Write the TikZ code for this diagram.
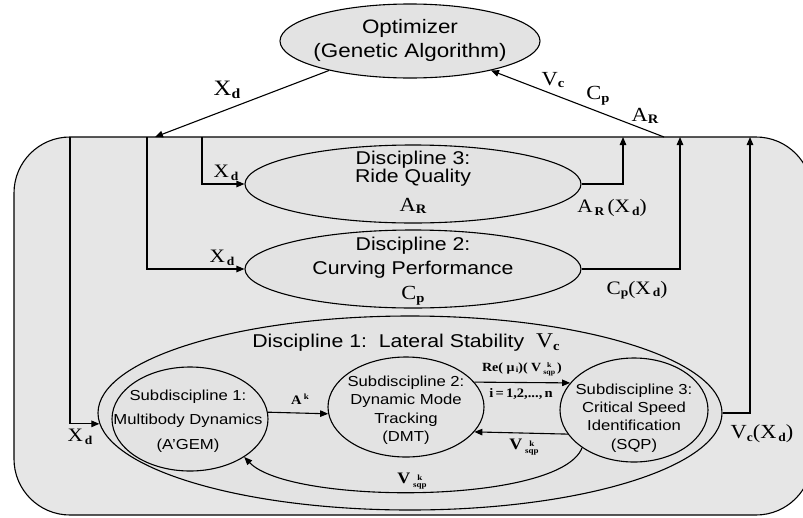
\documentclass[tikz,border=0pt]{standalone}
\usepackage{fontspec}
\setmainfont{Liberation Serif}[FakeStretch=1.12]
\setsansfont{Liberation Sans}[FakeStretch=1.15]
\usetikzlibrary{shapes.geometric,arrows.meta}
\definecolor{boxgray}{HTML}{E6E6E6}
\definecolor{ellgray}{HTML}{E3E3E3}
\newcommand\fs[2]{\fontsize{#1}{#2}\selectfont}
\newcommand\Sb[3]{#1\raisebox{-0.3ex}{\fs{#3}{#3}\bfseries #2}}
\newcommand\Stk[4]{\raisebox{-#3}{\fs{#4}{#4}\bfseries\shortstack{#1\\[0pt]#2}}}
\tikzset{
  ell/.style={ellipse, draw, line width=1.1pt, fill=ellgray, inner sep=0pt},
  conn/.style={line width=1.1pt},
  arr/.style={conn, -{Triangle[length=8pt,width=6.5pt]}},
  txt/.style={inner sep=0pt, align=center},
}
\begin{document}
\begin{tikzpicture}[x=1pt,y=-1pt]
\useasboundingbox (0,0) rectangle (803,517);
\clip (0,0) rectangle (803,517);
\fill[white] (0,0) rectangle (803,517);
\draw[conn, fill=boxgray, rounded corners=56pt] (14,137) rectangle (812,515);

% ellipses
\node[ell, minimum width=260, minimum height=74] (opt) at (410,41) {};
\node[ell, minimum width=336, minimum height=78] (d3) at (413,184) {};
\node[ell, minimum width=336, minimum height=78] (d2) at (413,269) {};
\node[ell, minimum width=624, minimum height=194] (d1) at (410,413) {};
\node[ell, minimum width=156, minimum height=104] (s1) at (190,419) {};
\node[ell, minimum width=156, minimum height=100] (s2) at (406,407) {};
\node[ell, minimum width=148, minimum height=104] (s3) at (634,410) {};

% texts in ellipses
\node[txt, font={\sffamily\fs{19.5}{24}}] (optt) at (410,40) {Optimizer\\(Genetic Algorithm)};
\node[txt, font={\sffamily\fs{18.5}{18}}] (d3t) at (413,169) {Discipline 3:\\Ride Quality};
\node[txt, font={\rmfamily\fs{20}{20}}] (d3v) at (413,206) {\Sb{A}{R}{13}};
\node[txt, font={\sffamily\fs{18.5}{24}}] (d2t) at (413,258) {Discipline 2:\\Curving Performance};
\node[txt, font={\rmfamily\fs{20}{20}}] (d2v) at (413,296) {\Sb{C}{p}{13}};
\node[txt] (d1t) at (406,343) {\sffamily\fs{18.5}{20}Discipline 1:\ \ Lateral Stability\ \ \rmfamily\fs{21}{21}\Sb{V}{c}{13}};
\node[txt, font={\sffamily\fs{14.5}{24.5}}] (s1t) at (188,421) {Subdiscipline 1:\\Multibody Dynamics\\(A'GEM)};
\node[txt, font={\sffamily\fs{14.5}{18.5}}] (s2t) at (406,410) {Subdiscipline 2:\\Dynamic Mode\\Tracking\\(DMT)};
\node[txt, font={\sffamily\fs{14.5}{18.3}}] (s3t) at (634,418) {Subdiscipline 3:\\Critical Speed\\Identification\\(SQP)};

% junction coordinates on the top edge
\coordinate (tin) at (155,137);
\coordinate (tout) at (664,137);
\coordinate (x1) at (70,137);
\coordinate (x2) at (147,137);
\coordinate (x3) at (202,137);
\coordinate (o3) at (623,137);
\coordinate (o2) at (680,137);
\coordinate (o1) at (750,137);

% connectors
\draw[arr] (opt.200) -- (tin);
\draw[arr] (tout) -- (opt.-20);
\draw[arr] (x1) |- (d1.182);
\draw[arr] (x2) |- (d2.west);
\draw[arr] (x3) |- (d3.west);
\draw[arr] (d3.east) -| (o3);
\draw[arr] (d2.east) -| (o2);
\draw[arr] (d1.east) -| (o1);
\draw[arr] (s1.5) -- (s2.185);
\draw[arr] (s2.20) -- (s3.157);
\draw[arr] (s3.200) -- (s2.-20);
\draw[arr] (s3.216) .. controls (560,505) and (290,505) .. (s1.-35);

% labels
\node[txt, font={\rmfamily\fs{22}{22}}] (lxd0) at (227,90) {\Sb{X}{d}{14}};
\node[txt, font={\rmfamily\fs{20}{20}}] (lvc) at (553,80) {\Sb{V}{c}{13}};
\node[txt, font={\rmfamily\fs{20}{20}}] (lcp) at (598,96) {\Sb{C}{p}{13}};
\node[txt, font={\rmfamily\fs{20}{20}}] (lar) at (645,116) {\Sb{A}{R}{13}};
\node[txt, font={\rmfamily\fs{19}{19}}] (lxd3) at (226,173) {\Sb{X}{\,d}{12}};
\node[txt, font={\rmfamily\fs{19}{19}}] (lxd2) at (222,258) {\Sb{X}{\,d}{12}};
\node[txt, font={\rmfamily\fs{19}{19}}] (lxd1) at (80,437) {\Sb{X}{\,d}{12}};
\node[txt, font={\rmfamily\fs{19}{19}}] (lar2) at (612,208) {\Sb{A}{\,R}{12}\,(\Sb{X}{\,d}{12})};
\node[txt, font={\rmfamily\fs{19}{19}}] (lcp2) at (637,290) {\Sb{C}{p}{12}(\Sb{X}{\,d}{12})};
\node[txt, font={\rmfamily\fs{20}{20}}] (lvc2) at (762,434) {\Sb{V}{c}{12}(\Sb{X}{\,d}{12})};
\node[txt, font={\rmfamily\bfseries\fs{13}{13}}] (lak) at (300,399) {A\,\raisebox{0.9ex}{\fs{8}{8}\bfseries k}};
\node[txt, font={\rmfamily\bfseries\fs{12.5}{12.5}}] (lre) at (522,369) {Re( μ\raisebox{-0.3ex}{\fs{8}{8}\bfseries\,i})( V\,\Stk{k}{sqp}{3pt}{7}\,)};
\node[txt, font={\rmfamily\bfseries\fs{13}{13}}] (li) at (521,394) {i\,=\,1,2,...,\,n};
\node[txt, font={\rmfamily\bfseries\fs{16}{16}}] (lv1) at (524,447) {V\,\Stk{k}{sqp}{4pt}{8}};
\node[txt, font={\rmfamily\bfseries\fs{16}{16}}] (lv2) at (412,481) {V\,\Stk{k}{sqp}{4pt}{8}};
\end{tikzpicture}
\end{document}
